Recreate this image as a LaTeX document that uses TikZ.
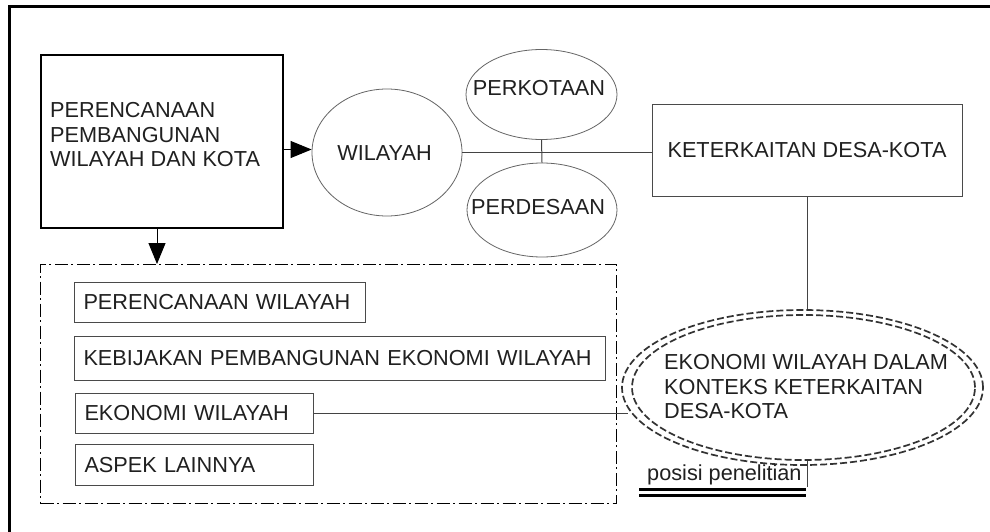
\documentclass[tikz,border=0pt]{standalone}
\usepackage{fontspec}
\setmainfont{Liberation Sans}
\usetikzlibrary{shapes.geometric,arrows.meta,calc}
\definecolor{txt}{HTML}{202020}
\definecolor{ln}{HTML}{4a4a4a}
\begin{document}
\begin{tikzpicture}[x=1pt,y=-1pt,
  font=\fontsize{21.7}{24.5}\selectfont, text=txt,
  box/.style={draw=ln, line width=1pt, rectangle, inner sep=0pt},
  ibox/.style={draw=ln, line width=1pt, rectangle, anchor=north west, align=left, inner xsep=9pt, inner ysep=0pt},
  ell/.style={draw=ln!85, line width=0.8pt, ellipse, inner sep=0pt},
  conn/.style={draw=ln!90!black, line width=1pt},
  arr/.style={draw=black, line width=1pt, -{Triangle[length=21pt,width=17pt]}},
  dd/.style={draw=black!80, line width=1.7pt, dash pattern=on 7pt off 3pt, ellipse, inner sep=0pt},
  dashdot/.style={draw=black, line width=1.3pt, dash pattern=on 13pt off 3.5pt on 2pt off 3.5pt, rectangle, inner sep=0pt},
  uline/.style={draw=black, line width=2.8pt}
]
\useasboundingbox (0,0) rectangle (990,532);
\fill[white] (0,0) rectangle (990,532);
% outer frame (top and left edges visible)
\draw[line width=3pt] (9,545) -- (9,7) -- (1000,7);

% main box
\node[box, draw=black, line width=1.5pt, minimum width=242pt, minimum height=173pt] (main) at (162,141.5) {};
\node[anchor=west, align=left, inner sep=0pt] (maintxt) at (50,135) {PERENCANAAN\\PEMBANGUNAN\\WILAYAH DAN KOTA};

% ellipses
\node[ell, minimum width=150pt, minimum height=127pt] (wil) at (387,152.5) {};
\node (wiltxt) at (384.5,153) {WILAYAH};
\node[ell, minimum width=151pt, minimum height=90pt] (kota) at (541.5,94.5) {};
\node (kotatxt) at (539,88) {PERKOTAAN};
\node[ell, minimum width=150pt, minimum height=94pt] (desa) at (542,210) {};
\node (desatxt) at (538,207) {PERDESAAN};

% keterkaitan box
\node[box, minimum width=310pt, minimum height=91pt] (kdk) at (807,150.5) {KETERKAITAN DESA-KOTA};

% dash-dot group
\node[dashdot, minimum width=576pt, minimum height=239pt, anchor=north west] (grp) at (40,264) {};
\node[ibox, text width=273pt, minimum height=40pt] (pw) at (74,282) {PERENCANAAN WILAYAH};
\node[ibox, text width=513pt, minimum height=44pt] (kb) at (74,336) {KEBIJAKAN PEMBANGUNAN EKONOMI WILAYAH};
\node[ibox, text width=220pt, minimum height=40pt] (ew) at (75,393) {EKONOMI WILAYAH};
\node[ibox, text width=220pt, minimum height=41pt] (al) at (75,444) {ASPEK LAINNYA};

% double dashed ellipse
\node[dd, minimum width=361pt, minimum height=155pt] (ekoout) at (802.5,387.5) {};
\node[dd, minimum width=343pt, minimum height=145pt] (ekoin) at (803.5,387.5) {};
\node[anchor=west, align=left, inner sep=0pt] (ekotxt) at (664,387) {EKONOMI WILAYAH DALAM\\KONTEKS KETERKAITAN\\DESA-KOTA};

% posisi penelitian
\node[anchor=base west, inner sep=0pt] (pos) at (647,480) {posisi penelitian};
\coordinate (posend) at (807,487);
\coordinate (ula) at (639,489.7);
\coordinate (ulb) at (806,489.7);
\coordinate (ulc) at (639,495.7);
\coordinate (uld) at (806,495.7);
\draw[conn] (ekoin.south -| posend) -- (posend);
\draw[uline] (ula) -- (ulb);
\draw[uline] (ulc) -- (uld);

% connectors
\draw[arr] ([yshift=3pt]main.east |- wil.west) -- ([yshift=3pt]wil.west);
\draw[arr] ([xshift=-5pt]main.south) -- ([xshift=-5pt]main.south |- grp.north);
\draw[conn] (wil.east) -- (wil.east -| kdk.west);
\draw[conn] (kota.south) -- (desa.north);
\draw[conn] (kdk.south) -- (kdk.south |- ekoout.north);
\draw[conn] (ew.east) -- (ew.east -| ekoout.187.8);
\end{tikzpicture}
\end{document}
